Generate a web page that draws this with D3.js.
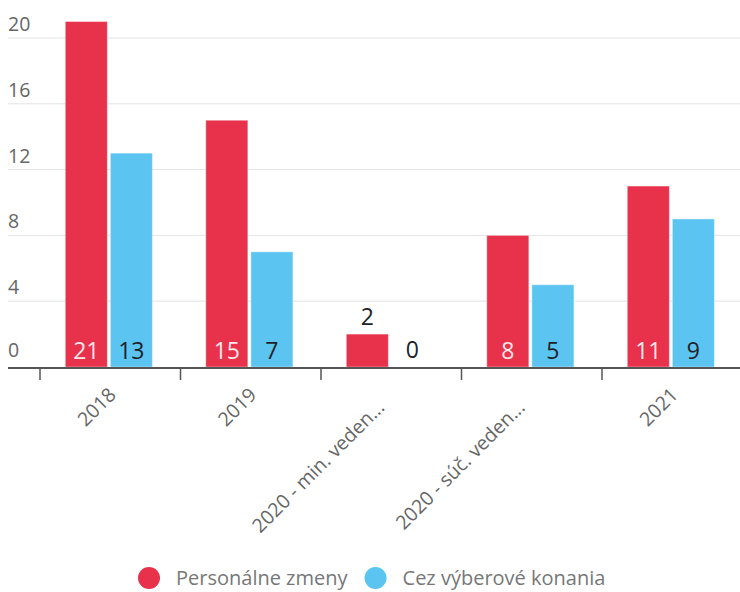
<!DOCTYPE html>
<html>
<head>
<meta charset="utf-8">
<script src="https://cdn.jsdelivr.net/npm/d3@7"></script>
<style>
  body { margin: 0; background: #fff; }
  svg { font-family: "Open Sans", sans-serif; display: block; }
</style>
</head>
<body>
<svg id="chart"></svg>
<script>
// Data
const categories = ["2018", "2019", "2020 - min. veden...", "2020 - súč. veden...", "2021"];
const seriesNames = ["Personálne zmeny", "Cez výberové konania"];
const personalne = [21, 15, 2, 8, 11];
const vyberove = [13, 7, 0, 5, 9];
const yTicks = [0, 4, 8, 12, 16, 20];

const colors = ["#e8314a", "#5bc4f1"];

const width = 740, height = 592;
const plotLeft = 8, plotRight = 740;
const y0 = 367;

const svg = d3.select("#chart")
  .attr("width", width)
  .attr("height", height);

// rows for the grouped bars
const rows = categories.map(function(c, i) {
  return { cat: c, values: [personalne[i], vyberove[i]] };
});

// scales
const x0 = d3.scaleBand()
  .domain(categories)
  .range([40, 742.5]);

const x1 = d3.scaleBand()
  .domain(seriesNames)
  .range([x0.bandwidth() * 0.18, x0.bandwidth() * 0.8])
  .paddingInner(0.067);

const y = d3.scaleLinear()
  .domain([0, 20])
  .range([y0, 38]);

// gridlines
svg.append("g")
  .selectAll("line")
  .data(yTicks.filter(function(t) { return t > 0; }))
  .enter()
  .append("line")
  .attr("x1", plotLeft)
  .attr("x2", plotRight)
  .attr("y1", function(d) { return y(d); })
  .attr("y2", function(d) { return y(d); })
  .attr("stroke", "#e3e3e3")
  .attr("stroke-width", 1);

// y labels (sit above the gridline)
svg.append("g")
  .selectAll("text")
  .data(yTicks)
  .enter()
  .append("text")
  .attr("x", plotLeft)
  .attr("y", function(d) { return y(d) - (d === 0 ? 10 : 7); })
  .attr("fill", "#666")
  .style("font-size", "19.5px")
  .text(function(d) { return d; });

// bars
const groups = svg.append("g")
  .selectAll("g")
  .data(rows)
  .enter()
  .append("g")
  .attr("transform", function(d) { return "translate(" + x0(d.cat) + ",0)"; });

groups.selectAll("rect")
  .data(function(d) {
    return d.values.map(function(v, j) { return { key: seriesNames[j], value: v, j: j }; });
  })
  .enter()
  .append("rect")
  .attr("x", function(d) { return x1(d.key); })
  .attr("y", function(d) { return y(d.value); })
  .attr("width", x1.bandwidth())
  .attr("height", function(d) { return y0 - y(d.value); })
  .attr("fill", function(d) { return colors[d.j]; })
  .attr("stroke", "#fff")
  .attr("stroke-opacity", 0.4)
  .attr("stroke-width", 1);

// value labels: inside at the bottom when there is room, else above the bar
groups.selectAll("text")
  .data(function(d) {
    return d.values.map(function(v, j) { return { key: seriesNames[j], value: v, j: j }; });
  })
  .enter()
  .append("text")
  .attr("x", function(d) { return x1(d.key) + x1.bandwidth() / 2; })
  .attr("y", function(d) {
    const h = y0 - y(d.value);
    return h > 40 ? y0 - 8 : y(d.value) - 9;
  })
  .attr("text-anchor", "middle")
  .attr("fill", function(d) {
    const h = y0 - y(d.value);
    return (h > 40 && d.j === 0) ? "#fde8eb" : "#1e2228";
  })
  .style("font-size", "23px")
  .text(function(d) { return d.value; });

// x axis line and ticks
svg.append("line")
  .attr("x1", plotLeft)
  .attr("x2", plotRight)
  .attr("y1", y0 + 1)
  .attr("y2", y0 + 1)
  .attr("stroke", "#555")
  .attr("stroke-width", 2);

svg.append("g")
  .selectAll("line")
  .data(categories)
  .enter()
  .append("line")
  .attr("x1", function(d) { return x0(d); })
  .attr("x2", function(d) { return x0(d); })
  .attr("y1", y0 + 1)
  .attr("y2", y0 + 13)
  .attr("stroke", "#555")
  .attr("stroke-width", 1.5);

// rotated category labels (the cut ones sit a bit further back)
svg.append("g")
  .selectAll("text")
  .data(categories)
  .enter()
  .append("text")
  .attr("transform", function(d) {
    const cx = x0(d) + x0.bandwidth() / 2 + 7;
    return "translate(" + cx + "," + (y0 + 29) + ") rotate(-45)";
  })
  .attr("dx", function(d) { return d.endsWith("...") ? -18 : 0; })
  .attr("text-anchor", "end")
  .attr("fill", "#666")
  .style("font-size", "19.5px")
  .text(function(d) { return d; });

// legend
const legend = svg.append("g").attr("transform", "translate(0,578)");
let lx = 138;
seriesNames.forEach(function(name, i) {
  legend.append("circle")
    .attr("cx", lx + 11)
    .attr("cy", 0)
    .attr("r", 11)
    .attr("fill", colors[i]);
  const t = legend.append("text")
    .attr("x", lx + 38)
    .attr("y", 7)
    .attr("fill", "#777")
    .style("font-size", "20px")
    .text(name);
  lx = lx + 38 + t.node().getComputedTextLength() + 17;
});
</script>
</body>
</html>
